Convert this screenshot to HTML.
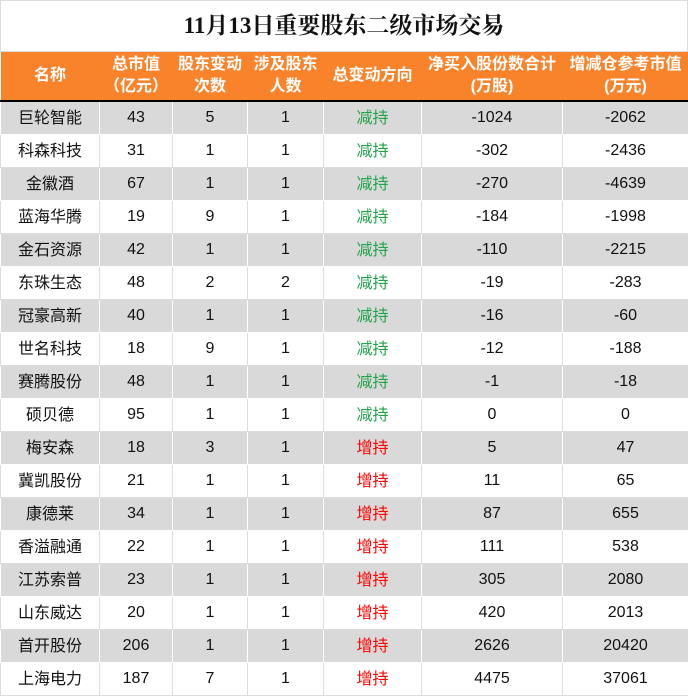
<!DOCTYPE html>
<html><head><meta charset="utf-8"><style>
body{margin:0;width:688px;height:696px;overflow:hidden;background:#fff;font-family:"Liberation Sans","Noto Sans CJK SC",sans-serif}
.t{position:absolute;left:0;top:0;width:688px;height:52px;font-family:"Liberation Serif","Noto Serif CJK SC",serif;font-weight:bold;font-size:23px;text-align:center;line-height:50px;color:#111;box-sizing:border-box;border:1px solid #ddd}
table{position:absolute;left:0;top:52px;border-collapse:collapse;table-layout:fixed;width:688px}
th{background:#f8832a;color:#fff;font-size:16px;font-weight:bold;height:48px;line-height:22px;padding:0;border-bottom:2px solid #000}
td{height:32px;padding:0;text-align:center;font-size:16px;line-height:16px;color:#111;border:1px solid #fff;vertical-align:middle}
td span{display:inline-block;line-height:16px;height:16px;vertical-align:middle}
tr:nth-child(odd) td{background:#d9d9d9}
tr:nth-child(even) td{background:#fff;border-color:#ddd}
.g{color:#22a34a}.r{color:#f00}
.c{position:relative;top:1px}
</style></head><body>
<div class="t">11月13日重要股东二级市场交易</div>
<table>
<colgroup><col style="width:99px"><col style="width:73px"><col style="width:75px"><col style="width:76px"><col style="width:98px"><col style="width:141px"><col style="width:126px"></colgroup>
<thead><tr><th>名称</th><th>总市值<br>（亿元）</th><th>股东变动<br>次数</th><th>涉及股东<br>人数</th><th>总变动方向</th><th>净买入股份数合计<br>(万股)</th><th>增减仓参考市值<br>(万元)</th></tr></thead>
<tbody>
<tr><td><span class="c">巨轮智能</span></td><td>43</td><td>5</td><td>1</td><td class="g"><span class="c">减持</span></td><td>-1024</td><td>-2062</td></tr>
<tr><td><span class="c">科森科技</span></td><td>31</td><td>1</td><td>1</td><td class="g"><span class="c">减持</span></td><td>-302</td><td>-2436</td></tr>
<tr><td><span class="c">金徽酒</span></td><td>67</td><td>1</td><td>1</td><td class="g"><span class="c">减持</span></td><td>-270</td><td>-4639</td></tr>
<tr><td><span class="c">蓝海华腾</span></td><td>19</td><td>9</td><td>1</td><td class="g"><span class="c">减持</span></td><td>-184</td><td>-1998</td></tr>
<tr><td><span class="c">金石资源</span></td><td>42</td><td>1</td><td>1</td><td class="g"><span class="c">减持</span></td><td>-110</td><td>-2215</td></tr>
<tr><td><span class="c">东珠生态</span></td><td>48</td><td>2</td><td>2</td><td class="g"><span class="c">减持</span></td><td>-19</td><td>-283</td></tr>
<tr><td><span class="c">冠豪高新</span></td><td>40</td><td>1</td><td>1</td><td class="g"><span class="c">减持</span></td><td>-16</td><td>-60</td></tr>
<tr><td><span class="c">世名科技</span></td><td>18</td><td>9</td><td>1</td><td class="g"><span class="c">减持</span></td><td>-12</td><td>-188</td></tr>
<tr><td><span class="c">赛腾股份</span></td><td>48</td><td>1</td><td>1</td><td class="g"><span class="c">减持</span></td><td>-1</td><td>-18</td></tr>
<tr><td><span class="c">硕贝德</span></td><td>95</td><td>1</td><td>1</td><td class="g"><span class="c">减持</span></td><td>0</td><td>0</td></tr>
<tr><td><span class="c">梅安森</span></td><td>18</td><td>3</td><td>1</td><td class="r"><span class="c">增持</span></td><td>5</td><td>47</td></tr>
<tr><td><span class="c">冀凯股份</span></td><td>21</td><td>1</td><td>1</td><td class="r"><span class="c">增持</span></td><td>11</td><td>65</td></tr>
<tr><td><span class="c">康德莱</span></td><td>34</td><td>1</td><td>1</td><td class="r"><span class="c">增持</span></td><td>87</td><td>655</td></tr>
<tr><td><span class="c">香溢融通</span></td><td>22</td><td>1</td><td>1</td><td class="r"><span class="c">增持</span></td><td>111</td><td>538</td></tr>
<tr><td><span class="c">江苏索普</span></td><td>23</td><td>1</td><td>1</td><td class="r"><span class="c">增持</span></td><td>305</td><td>2080</td></tr>
<tr><td><span class="c">山东威达</span></td><td>20</td><td>1</td><td>1</td><td class="r"><span class="c">增持</span></td><td>420</td><td>2013</td></tr>
<tr><td><span class="c">首开股份</span></td><td>206</td><td>1</td><td>1</td><td class="r"><span class="c">增持</span></td><td>2626</td><td>20420</td></tr>
<tr><td><span class="c">上海电力</span></td><td>187</td><td>7</td><td>1</td><td class="r"><span class="c">增持</span></td><td>4475</td><td>37061</td></tr>
</tbody></table>
</body></html>
